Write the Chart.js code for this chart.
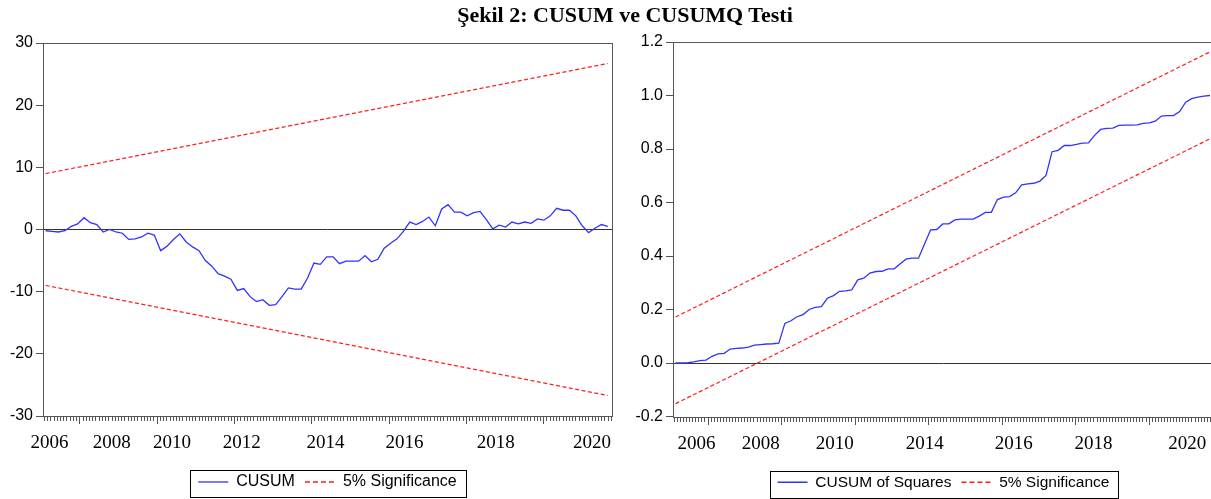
<!DOCTYPE html>
<html>
<head>
<meta charset="utf-8">
<script src="https://cdn.jsdelivr.net/npm/chart.js@4.4.1/dist/chart.umd.min.js"></script>
<style>
  html, body { margin: 0; padding: 0; background: #fff; width: 1211px; height: 499px; overflow: hidden; }
  .panel { position: absolute; top: 0; }
  #left { left: 0; }
  #right { left: 620px; }
  #title {
    position: absolute; top: 2px; left: 625px; transform: translateX(-50%);
    white-space: nowrap; z-index: 2;
    font: bold 22px "Liberation Serif", "Times New Roman", serif; color: #000;
  }
</style>
</head>
<body>
<canvas class="panel" id="left" width="620" height="500"></canvas>
<canvas class="panel" id="right" width="600" height="500"></canvas>
<div id="title">Şekil 2: CUSUM ve CUSUMQ Testi</div>
<script>
// observation span (decimal years) shared by both panels
const firstObs = 2006.13;
const lastObs = 2020.67;
const axisMin = 2006.06;
const axisMax = 2020.78;

// CUSUM
const cusumValues = [
  -0.2, -0.3, -0.4, -0.2, 0.5, 0.9, 1.9, 1.1, 0.8, -0.4,
  0.0, -0.4, -0.6, -1.6, -1.5, -1.2, -0.6, -0.9, -3.4, -2.7,
  -1.6, -0.7, -2.0, -2.8, -3.4, -5.0, -5.9, -7.1, -7.5, -8.0,
  -9.8, -9.5, -10.8, -11.6, -11.3, -12.2, -12.1, -10.8, -9.4, -9.6,
  -9.6, -7.8, -5.4, -5.6, -4.4, -4.4, -5.5, -5.1, -5.1, -5.1,
  -4.2, -5.2, -4.8, -3.0, -2.2, -1.5, -0.3, 1.2, 0.8, 1.3,
  2.0, 0.6, 3.3, 4.0, 2.8, 2.8, 2.2, 2.7, 2.9, 1.6,
  0.1, 0.7, 0.4, 1.2, 0.9, 1.2, 1.0, 1.7, 1.5, 2.2,
  3.4, 3.1, 3.1, 2.2, 0.6, -0.5, 0.2, 0.8, 0.5
];
const cusumBound = [9.0, 26.7];   // upper 5% line at first / last obs (lower is mirrored)

// CUSUM of squares
const cusumqValues = [
  0.000, 0.000, 0.001, 0.004, 0.009, 0.011, 0.025, 0.034, 0.036, 0.052,
  0.055, 0.056, 0.059, 0.067, 0.069, 0.071, 0.072, 0.074, 0.148, 0.158,
  0.173, 0.181, 0.200, 0.208, 0.211, 0.242, 0.252, 0.268, 0.270, 0.273,
  0.311, 0.317, 0.336, 0.342, 0.343, 0.352, 0.352, 0.371, 0.389, 0.392,
  0.392, 0.445, 0.498, 0.499, 0.520, 0.520, 0.535, 0.538, 0.538, 0.538,
  0.549, 0.563, 0.563, 0.611, 0.620, 0.622, 0.636, 0.666, 0.670, 0.672,
  0.680, 0.701, 0.790, 0.795, 0.813, 0.813, 0.817, 0.822, 0.823, 0.851,
  0.873, 0.877, 0.878, 0.888, 0.889, 0.889, 0.890, 0.896, 0.898, 0.904,
  0.923, 0.925, 0.925, 0.940, 0.975, 0.988, 0.994, 0.998, 1.000
];
const cusumqUpper = [0.172, 1.163];
const cusumqLower = [-0.152, 0.838];

// x axis labels (as printed, at their printed places)
const leftYearLabels = ['2006', '2008', '2010', '2012', '2014', '2016', '2018', '2020'];
const leftYearAt = [2006.23, 2007.84, 2009.40, 2011.20, 2013.37, 2015.41, 2017.77, 2020.26];
const rightYearLabels = ['2006', '2008', '2010', '2014', '2016', '2018', '2020'];
const rightYearAt = [2006.70, 2008.45, 2010.46, 2012.91, 2015.33, 2017.50, 2020.05];

const SANS = '"Liberation Sans", Arial, sans-serif';
const SERIF = '"Liberation Serif", "Times New Roman", serif';
const BLUE = 'rgb(50,50,255)';
const RED = 'rgb(255,30,30)';

Chart.defaults.color = '#000';
Chart.defaults.font.family = SANS;

function toPoints(values) {
  const step = (lastObs - firstObs) / (values.length - 1);
  return values.map((v, i) => ({ x: firstObs + i * step, y: v }));
}
function bandLine(ends) {
  return [{ x: firstObs, y: ends[0] }, { x: lastObs, y: ends[1] }];
}

// EViews-like frame, month ticks under the x axis, box round the legend
const eviewsFrame = {
  id: 'eviewsFrame',
  afterDraw(chart) {
    const { ctx, chartArea: a } = chart;
    const x = chart.scales.x;
    ctx.save();
    ctx.strokeStyle = '#555';
    ctx.lineWidth = 1;
    ctx.strokeRect(Math.round(a.left) + 0.5, Math.round(a.top) + 0.5,
      Math.round(a.right - a.left), Math.round(a.bottom - a.top));
    ctx.beginPath();
    for (let m = Math.ceil(x.min * 12); m <= x.max * 12; m++) {
      const px = Math.round(x.getPixelForValue(m / 12)) + 0.5;
      const major = m % 24 === 12;
      ctx.moveTo(px, Math.round(a.bottom));
      ctx.lineTo(px, Math.round(a.bottom) + (major ? 8 : 5));
    }
    ctx.stroke();

    const hb = chart.legend.legendHitBoxes;
    if (hb && hb.length) {
      const last = hb[hb.length - 1];
      const l = Math.round(hb[0].left - 8) + 0.5;
      const r = Math.round(last.left + last.width + 9) + 0.5;
      const t = Math.round(hb[0].top - 4) + 0.5;
      const b = Math.round(hb[0].top + 16 + 7) + 0.5;
      ctx.strokeStyle = '#000';
      ctx.strokeRect(l, t, r - l, b - t);
    }
    ctx.restore();
  }
};

function makePanel(canvas, o) {
  return new Chart(canvas, {
    type: 'line',
    data: {
      datasets: [
        { label: o.mainLabel, data: toPoints(o.values), borderColor: BLUE, borderWidth: 1.3 },
        { label: '5% Significance', data: bandLine(o.upper), borderColor: RED, borderWidth: 1.2, borderDash: [4, 2.5] },
        { label: '5% Significance', data: bandLine(o.lower), borderColor: RED, borderWidth: 1.2, borderDash: [4, 2.5] }
      ]
    },
    options: {
      responsive: false,
      animation: false,
      devicePixelRatio: 1,
      layout: { padding: { top: o.top, left: 0, right: o.right, bottom: 0 } },
      elements: { point: { radius: 0 }, line: { tension: 0 } },
      scales: {
        x: {
          type: 'linear', min: axisMin, max: axisMax,
          grid: { display: false }, border: { display: false },
          afterBuildTicks: s => { s.ticks = o.yearAt.map(v => ({ value: v })); },
          afterFit: s => { s.height = 48; },
          ticks: {
            autoSkip: false, maxRotation: 0, padding: 8,
            font: { family: SERIF, size: 19 }, color: '#000',
            callback: (v, i) => o.yearLabels[i]
          }
        },
        y: {
          min: o.ymin, max: o.ymax,
          border: { display: false },
          afterFit: s => { s.width = o.yWidth; },
          grid: {
            drawTicks: true, tickLength: 7, tickColor: '#555',
            color: c => Math.abs(c.tick.value) < 1e-9 ? '#333' : 'rgba(0,0,0,0)'
          },
          ticks: {
            stepSize: o.step, padding: 3, font: { family: SANS, size: 16 }, color: '#000',
            callback: o.fmt
          }
        }
      },
      plugins: {
        title: { display: false },
        tooltip: { enabled: false },
        legend: {
          position: 'bottom', fullSize: false,
          labels: {
            usePointStyle: true, pointStyle: 'line', pointStyleWidth: 30, padding: 10,
            font: { family: SANS, size: o.legendSize }, color: '#000',
            generateLabels: chart => Chart.defaults.plugins.legend.labels.generateLabels(chart)
              .filter(it => it.datasetIndex < 2)
              .map(it => {
                const ds = chart.data.datasets[it.datasetIndex];
                return { ...it, pointStyle: 'line', strokeStyle: ds.borderColor, lineWidth: 1.3,
                  lineDash: ds.borderDash ? [5, 3] : [] };
              })
          }
        }
      }
    },
    plugins: [eviewsFrame]
  });
}

makePanel(document.getElementById('left'), {
  mainLabel: 'CUSUM', values: cusumValues,
  upper: cusumBound, lower: cusumBound.map(v => -v),
  ymin: -30, ymax: 30, step: 10, fmt: v => String(v),
  top: 43, right: 8, yWidth: 43, legendSize: 16,
  yearLabels: leftYearLabels, yearAt: leftYearAt
});

makePanel(document.getElementById('right'), {
  mainLabel: 'CUSUM of Squares', values: cusumqValues,
  upper: cusumqUpper, lower: cusumqLower,
  ymin: -0.2, ymax: 1.2, step: 0.2, fmt: v => (Math.abs(v) < 1e-9 ? 0 : v).toFixed(1),
  top: 42, right: 6, yWidth: 53, legendSize: 15.5,
  yearLabels: rightYearLabels, yearAt: rightYearAt
});
</script>
</body>
</html>
